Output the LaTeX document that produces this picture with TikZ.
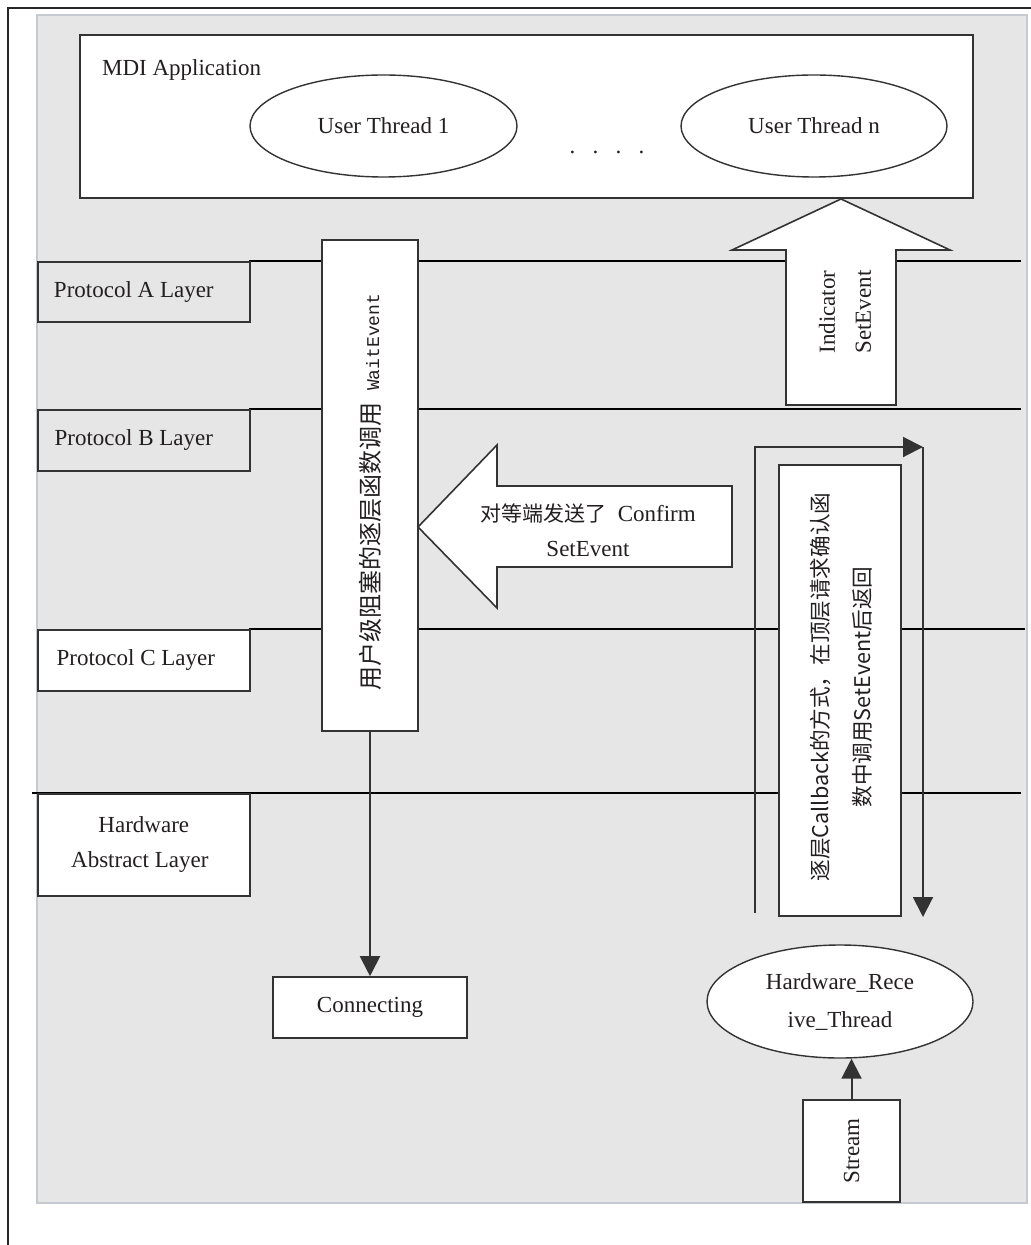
\documentclass[tikz,border=0pt]{standalone}
\usepackage{fontspec}
\setmainfont{Liberation Serif}
\setmonofont{Liberation Mono}
\newfontfamily\cjk{Noto Sans CJK SC}
\usetikzlibrary{shapes.geometric,arrows.meta}
\definecolor{bggray}{HTML}{E6E6E6}
\definecolor{bgedge}{HTML}{C5CAD0}
\definecolor{ink}{HTML}{333333}
\definecolor{textink}{HTML}{231F20}
\begin{document}
\begin{tikzpicture}[
        x=0.5pt, y=-0.5pt,
        font=\fontsize{11.5}{17.5}\selectfont,
        text=textink,
        flow/.style={-{Triangle[length=10pt,width=10pt]}, line width=1pt, draw=ink},
    ]
    \tikzset{
        box/.style = {rectangle, draw=ink, fill=white, line width=0.8pt, align=center, inner sep=0pt},
        layerbox/.style = {box, minimum width=106pt, anchor=north west},
        thread/.style = {ellipse, draw=ink, fill=white, line width=0.7pt, align=center, inner sep=0pt},
        layer/.style = {draw=black, line width=1pt},
        bigarrow/.style = {draw=ink, fill=white, line width=0.8pt},
    }
    \useasboundingbox (0,0) rectangle (1031,1245);
    % frame and background
    \draw[line width=1.2pt, draw=black!85] (8,1245) -- (8,8) -- (1031,8);
    \filldraw[fill=bggray, draw=bgedge, line width=0.8pt] (37,15) rectangle (1027,1203);
    % layer lines
    \draw[layer] (249,261) -- (1021,261);
    \draw[layer] (249,409) -- (1021,409);
    \draw[layer] (249,629) -- (1025,629);
    \draw[layer] (32,793) -- (1021,793);
    % application
    \node[box, minimum width=446.5pt, minimum height=81.5pt] (mdi) at (526.5,116.5) {};
    \node[anchor=west] (mdilabel) at (95,70) {MDI Application};
    \node[thread, minimum width=133.5pt, minimum height=51pt] (ut1) at (383.5,126) {User Thread 1};
    \node[thread, minimum width=133pt, minimum height=51pt] (utn) at (814,126) {User Thread n};
    \node (dots) at (607,152) {.\ \ \ .\ \ \ .\ \ \ .};
    % layers
    \node[layerbox, fill=bggray, minimum height=30pt] (pa) at (37,261) {Protocol A Layer\hspace*{10pt}};
    \node[layerbox, fill=bggray, minimum height=30.5pt] (pb) at (37,409) {Protocol B Layer\hspace*{10pt}};
    \node[layerbox, minimum height=30.5pt] (pc) at (37,629) {Protocol C Layer\hspace*{8pt}};
    \node[layerbox, minimum height=51pt] (hal) at (37,793) {Hardware\\Abstract Layer\hspace*{4pt}};
    % user call
    \node[box, minimum width=48pt, minimum height=245.5pt] (wait) at (370,485.5) {};
    \node[rotate=90] (waittext) at (370,492) {{\cjk\fontsize{12}{14}\selectfont 用户级阻塞的逐层函数调用}\ \ {\ttfamily\fontsize{9}{11}\selectfont WaitEvent}};
    \node[box, minimum width=97pt, minimum height=30.5pt] (conn) at (370,1007.5) {Connecting};
    \draw[flow] (wait.south) -- (conn.north);
    % indicator
    \draw[bigarrow] (786,405) -- (786,250) -- (732,250) -- (841,199) -- (950,250) -- (896,250) -- (896,405) -- cycle;
    \node[rotate=90, align=center, font=\fontsize{11.5}{18}\selectfont] (ind) at (845,312) {Indicator\\SetEvent};
    % confirm
    \draw[bigarrow] (732,486) -- (497,486) -- (497,445) -- (418,527) -- (497,608) -- (497,567) -- (732,567) -- cycle;
    \node[align=center, font=\fontsize{11.5}{17.5}\selectfont] (conf) at (588,530) {{\cjk\fontsize{10.5}{12}\selectfont 对等端发送了}\ \ Confirm\\SetEvent};
    % callback
    \node[box, minimum width=61pt, minimum height=225.5pt] (cb) at (840,690.5) {};
    \node[rotate=90, align=center, font=\cjk\fontsize{10.8}{21}\selectfont] (cbtext) at (841,687) {逐层Callback的方式，在顶层请求确认函\\数中调用SetEvent后返回};
    \coordinate (cbin) at (755,913);
    \coordinate (cbcorner) at (923,447);
    \coordinate (cbout) at (923,917);
    \draw[flow] (cbin) -- (cbin |- cbcorner) -- (cbcorner);
    \draw[flow] (cbcorner) -- (cbout);
    % hardware thread
    \node[thread, minimum width=133pt, minimum height=56.5pt, font=\fontsize{11.5}{19}\selectfont] (hrt) at (840,1001.5) {Hardware\_Rece\\ive\_Thread};
    \node[box, minimum width=48.5pt, minimum height=51pt] (stream) at (851.5,1151) {};
    \node[rotate=90] (streamtext) at (stream.center) {Stream};
    \draw[flow] (stream.north) -- (stream.north |- hrt.south);
\end{tikzpicture}
\end{document}
